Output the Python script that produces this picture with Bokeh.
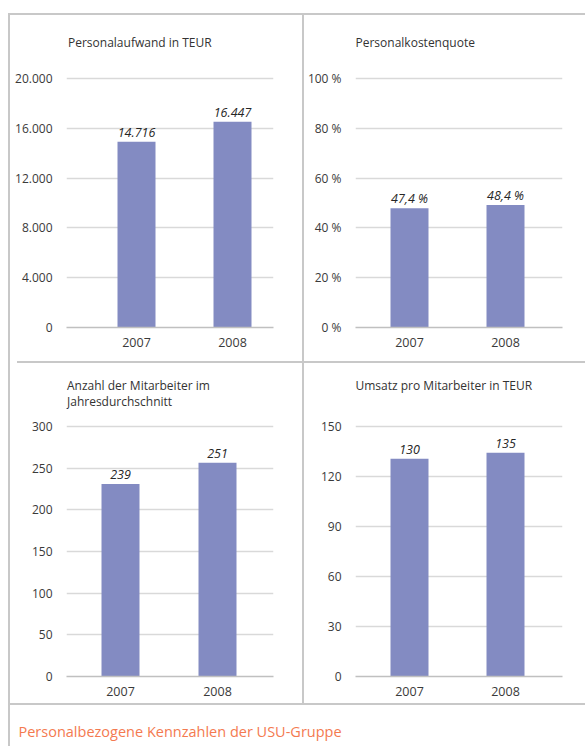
from bokeh.plotting import figure
from bokeh.models import Spacer, FixedTicker, Range1d, Label
from bokeh.layouts import row, column
from bokeh.embed import file_html
from bokeh.resources import INLINE
from bokeh.core.properties import value

# ---------------- data ----------------
years = [2007, 2008]
year_labels = ["2007", "2008"]

aufwand_title = ["Personalaufwand in TEUR"]
aufwand_bars = [14930, 16540]
aufwand_labels = ["14.716", "16.447"]
aufwand_ticks = [0, 4000, 8000, 12000, 16000, 20000]
aufwand_tick_labels = ["0", "4.000", "8.000", "12.000", "16.000", "20.000"]

quote_title = ["Personalkostenquote"]
quote_bars = [47.9, 49.2]
quote_labels = ["47,4 %", "48,4 %"]
quote_ticks = [0, 20, 40, 60, 80, 100]
quote_tick_labels = ["0 %", "20 %", "40 %", "60 %", "80 %", "100 %"]

ma_title = ["Anzahl der Mitarbeiter im", "Jahresdurchschnitt"]
ma_bars = [231, 256.5]
ma_labels = ["239", "251"]
ma_ticks = [0, 50, 100, 150, 200, 250, 300]
ma_tick_labels = ["0", "50", "100", "150", "200", "250", "300"]

umsatz_title = ["Umsatz pro Mitarbeiter in TEUR"]
umsatz_bars = [130.6, 134.2]
umsatz_labels = ["130", "135"]
umsatz_ticks = [0, 30, 60, 90, 120, 150]
umsatz_tick_labels = ["0", "30", "60", "90", "120", "150"]

caption = "Personalbezogene Kennzahlen der USU-Gruppe"

# ---------------- style ----------------
FONT = "Open Sans"
BAR = "#838bc2"
GRID = "#d9d9d9"
AXIS = "#c0c0c0"
FRAME = "#c8c8c8"
TXT = "#3a3a3a"
CAPTION = "#f47a50"


def panel(title_lines, title_px, title_dx, bars, labels, ticks, tick_labels,
          width, height, fl, fr, fb, plot_px, first_center, px_per_year):
    # plot_px: pixel span from zero line to top tick
    fw = width - fl - fr
    fh = height - fb
    k = plot_px / ticks[-1]
    y_end = fh / k
    x_start = years[0] - first_center / px_per_year
    x_end = x_start + fw / px_per_year
    p = figure(width=width, height=height,
               x_range=Range1d(x_start, x_end), y_range=Range1d(0, y_end),
               output_backend="svg", toolbar_location=None,
               min_border_left=fl, min_border_right=fr,
               min_border_top=0, min_border_bottom=fb,
               outline_line_color=None)
    p.vbar(x=years, top=bars, bottom=0, width=38 / px_per_year,
           fill_color=BAR, line_color=None)
    p.text(x=years, y=bars, text=labels, text_align="center",
           text_baseline="middle", y_offset=-9.5,
           text_font=value(FONT), text_font_size="12.5px",
           text_font_style="italic", text_color="#262626")

    xa = p.xaxis[0]
    xa.ticker = FixedTicker(ticks=years)
    xa.major_label_overrides = dict(zip(years, year_labels))
    xa.axis_line_color = AXIS
    xa.axis_line_width = 1.5
    xa.major_tick_line_color = None
    xa.minor_tick_line_color = None
    xa.major_label_standoff = 4
    xa.major_label_text_font = FONT
    xa.major_label_text_font_size = "12.5px"
    xa.major_label_text_color = TXT

    ya = p.yaxis[0]
    ya.ticker = FixedTicker(ticks=ticks)
    ya.major_label_overrides = dict(zip(ticks, tick_labels))
    ya.axis_line_color = None
    ya.major_tick_line_color = None
    ya.minor_tick_line_color = None
    ya.major_label_standoff = 8
    ya.major_label_text_font = FONT
    ya.major_label_text_font_size = "12px"
    ya.major_label_text_color = TXT

    p.xgrid.grid_line_color = None
    p.ygrid.ticker = FixedTicker(ticks=ticks[1:])
    p.ygrid.grid_line_color = GRID
    p.ygrid.grid_line_width = 1.5

    for t, ty in zip(title_lines, title_px):
        # ty: distance in px of title centre from the canvas top
        p.add_layout(Label(x=x_start, y=(fh - ty) / k,
                           x_units="data", y_units="data", x_offset=title_dx,
                           text=t, text_align="left", text_baseline="middle",
                           text_font=FONT, text_font_size="12px",
                           text_color="#333333"))
    return p


TW, RW = 292, 281
TH, BH = 346, 340
CAPH = 41

p_tl = panel(aufwand_title, [27], 1.5, aufwand_bars, aufwand_labels,
             aufwand_ticks, aufwand_tick_labels, TW, TH, 56, 29, 34, 248.8,
             70, 96)
p_tr = panel(quote_title, [27], 0, quote_bars, quote_labels, quote_ticks,
             quote_tick_labels, RW, TH, 51, 23, 34, 248.8, 54, 96)
p_bl = panel(ma_title, [21.5, 37.5], 0.5, ma_bars, ma_labels, ma_ticks,
             ma_tick_labels, TW, BH, 56, 29, 27, 250, 54, 97)
p_br = panel(umsatz_title, [21.5], 0, umsatz_bars, umsatz_labels,
             umsatz_ticks, umsatz_tick_labels, RW, BH, 51, 23, 27, 250, 54, 96)

# caption as a small, axis-free figure
cap = figure(width=575, height=CAPH, x_range=Range1d(0, 575),
             y_range=Range1d(CAPH, 0), output_backend="svg",
             toolbar_location=None, x_axis_location=None,
             y_axis_location=None, min_border=0, outline_line_color=None)
cap.grid.grid_line_color = None
cap.text(x=[8], y=[26], text=[caption], text_baseline="alphabetic",
         text_align="left", text_font=value(FONT), text_font_size="14.5px",
         text_color=CAPTION)


def line(w, h, color=FRAME):
    return Spacer(width=w, height=h, styles={"background-color": color})


def gap(w, h):
    return Spacer(width=w, height=h)


right_col = column(
    row(p_tl, line(2, TH), p_tr),
    row(gap(7, 2), line(568, 2)),
    row(p_bl, line(2, BH), p_br),
    line(575, 2),
    cap,
)

inner_h = TH + 2 + BH + 2 + CAPH

content = column(
    gap(577, 5),
    line(577, 2),
    row(line(2, inner_h), right_col),
)

layout = column(
    gap(585, 8),
    row(gap(8, inner_h + 7), content),
)

open("out.html", "w").write(file_html(layout, INLINE))
